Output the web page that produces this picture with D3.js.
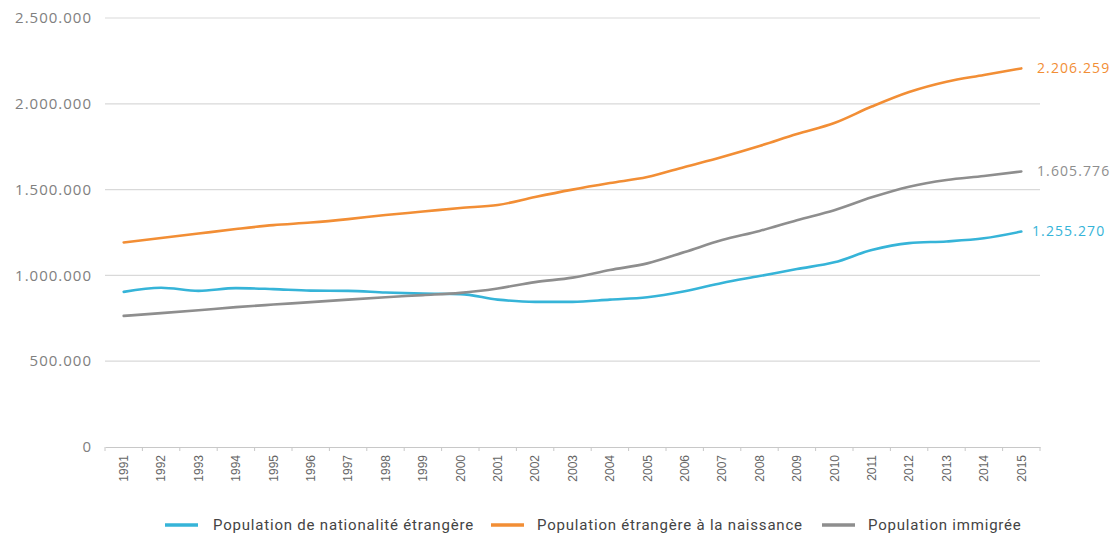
<!DOCTYPE html>
<html><head><meta charset="utf-8">
<script src="https://cdn.jsdelivr.net/npm/d3@7"></script>
<style>body{margin:0;background:#fff}svg{display:block}</style>
</head><body>
<svg id="c" width="1116" height="540"></svg>
<script>
const years = ["1991","1992","1993","1994","1995","1996","1997","1998","1999","2000","2001","2002","2003","2004","2005","2006","2007","2008","2009","2010","2011","2012","2013","2014","2015"];
const nationalite = [904000,928000,910000,926000,920000,911000,910000,900000,894000,891000,859000,846000,846000,859000,873000,908000,956000,996000,1037000,1076000,1148000,1188000,1198000,1216000,1255270];
const naissance = [1192000,1218000,1244000,1270000,1293000,1308000,1328000,1352000,1372000,1393000,1410000,1457000,1500000,1538000,1573000,1632000,1690000,1754000,1824000,1888000,1984000,2069000,2129000,2168000,2206259];
const immigree = [764000,780000,797000,815000,830000,844000,859000,873000,885000,898000,924000,961000,987000,1031000,1070000,1136000,1206000,1259000,1322000,1380000,1455000,1517000,1556000,1579000,1605776];
const yTicks = [0,500000,1000000,1500000,2000000,2500000];
const seriesNames = ["Population de nationalité étrangère","Population étrangère à la naissance","Population immigrée"];
const colors = ["#36b4d8","#f28e35","#8e8e8e"];

const fmt = v => d3.format(",")(v).replace(/,/g,".");
const svg = d3.select("#c");
const L=105, R=1040, T=18, B=447;
const x = d3.scaleBand().domain(years).range([L,R]);
const y = d3.scaleLinear().domain([0,2500000]).range([B,T]);

// gridlines
svg.append("g").selectAll("line").data(yTicks.filter(d=>d>0)).join("line")
  .attr("x1",L).attr("x2",R).attr("y1",d=>y(d)).attr("y2",d=>y(d))
  .attr("stroke","#d9d9d9").attr("stroke-width",1.2);

// y labels
svg.append("g").selectAll("text").data(yTicks).join("text")
  .attr("x",92).attr("y",d=>y(d)).attr("dy","0.35em").attr("text-anchor","end")
  .attr("font-family","Open Sans, sans-serif").attr("font-size",15).attr("letter-spacing",1)
  .attr("fill","#808080").text(fmt);

// x axis
const xAxis = d3.axisBottom(x).tickSize(0).tickPadding(0);
const gx = svg.append("g").attr("transform",`translate(0,${B})`).call(xAxis);
gx.select(".domain").attr("stroke","#c8c8c8").attr("stroke-width",1);
gx.selectAll(".tick text")
  .attr("font-family","Liberation Sans, Arial, sans-serif").attr("font-size",12).attr("fill","#666")
  .attr("text-anchor","end").attr("transform","rotate(-90)")
  .attr("x",-8).attr("y",0).attr("dy","0.35em");
// boundary ticks
svg.append("g").selectAll("line").data(years.concat(["end"])).join("line")
  .attr("x1",(d,i)=>L+i*x.step()).attr("x2",(d,i)=>L+i*x.step())
  .attr("y1",B).attr("y2",B+4).attr("stroke","#c8c8c8");

const data = [nationalite,naissance,immigree];
const line = d3.line().x((d,i)=>x(years[i])+x.bandwidth()/2).y(d=>y(d)).curve(d3.curveMonotoneX);
svg.append("g").selectAll("path").data(data).join("path")
  .attr("d",line).attr("fill","none").attr("stroke",(d,i)=>colors[i]).attr("stroke-width",2.6)
  .attr("stroke-linecap","round");

// end labels
svg.append("g").selectAll("text").data(data).join("text")
  .attr("x",(d,i)=> i===0?1032:1037)
  .attr("y",d=>y(d[d.length-1])).attr("dy","0.35em")
  .attr("font-family","Open Sans, sans-serif").attr("font-size",14).attr("letter-spacing",1.1)
  .attr("fill",(d,i)=>colors[i]).text(d=>fmt(d[d.length-1]));

// legend
const legX = [165,491,822];
const lg = svg.append("g").selectAll("g").data(seriesNames).join("g")
  .attr("transform",(d,i)=>`translate(${legX[i]},525)`);
lg.append("line").attr("x1",0).attr("x2",33).attr("y1",0).attr("y2",0)
  .attr("stroke",(d,i)=>colors[i]).attr("stroke-width",3.5);
lg.append("text").attr("x",(d,i)=>[48,46,46][i]).attr("dy","0.35em")
  .attr("font-family","Roboto, sans-serif").attr("font-size",15).attr("letter-spacing",0.8)
  .attr("fill","#444").text(d=>d);
</script>
</body></html>
